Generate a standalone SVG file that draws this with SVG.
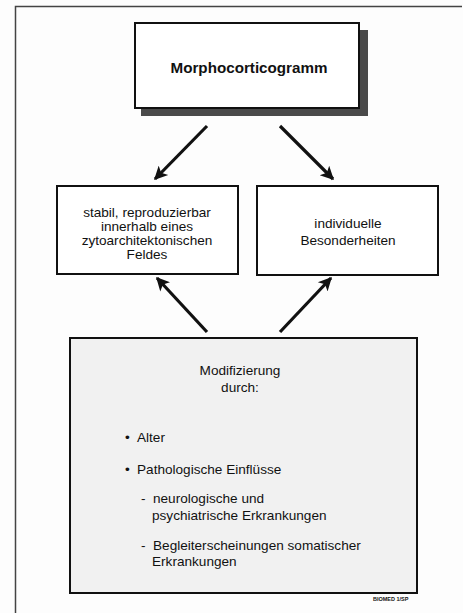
<svg xmlns="http://www.w3.org/2000/svg" width="463" height="613" viewBox="0 0 463 613">
<defs>
<marker id="ah" viewBox="0 0 10 10" refX="9" refY="5" markerWidth="4.6" markerHeight="4.2" orient="auto" markerUnits="strokeWidth">
<path d="M0,0 L10,5 L0,10 L2.5,5 Z" fill="#111"/>
</marker>
<style>
text{font-family:"Liberation Sans",Arial,sans-serif;fill:#111;font-size:13.6px}
.box{fill:#fff;stroke:#111;stroke-width:2}
.c{text-anchor:middle}
.arr{stroke:#111;stroke-width:3.2;fill:none;marker-end:url(#ah)}
</style>
</defs>
<rect width="463" height="613" fill="#fdfdfd"/>
<g id="frame" stroke="#444" stroke-width="1.5" fill="none">
<path d="M15.5,613 L15.5,6.5 L462,6.5"/>
</g>
<g id="top">
<rect x="141" y="30" width="227" height="86" fill="#4a4a4a"/>
<rect class="box" x="135" y="23" width="224" height="85"/>
<text class="c" x="249" y="73" style="font-weight:bold;font-size:15.2px">Morphocorticogramm</text>
</g>
<g id="left">
<rect class="box" x="57" y="186" width="181" height="88"/>
<text class="c" x="147" y="217">stabil, reproduzierbar</text>
<text class="c" x="147" y="231">innerhalb eines</text>
<text class="c" x="147" y="245">zytoarchitektonischen</text>
<text class="c" x="147" y="259">Feldes</text>
</g>
<g id="right">
<rect class="box" x="257" y="186" width="181" height="89"/>
<text class="c" x="348" y="228">individuelle</text>
<text class="c" x="348" y="245">Besonderheiten</text>
</g>
<g id="bottom">
<rect x="70" y="338" width="347" height="255" fill="#f1f1f1" stroke="#111" stroke-width="2"/>
<text class="c" x="240" y="375">Modifizierung</text>
<text class="c" x="240" y="392">durch:</text>
<text x="125" y="442">•</text>
<text x="137" y="442">Alter</text>
<text x="125" y="474">•</text>
<text x="137" y="474">Pathologische Einflüsse</text>
<text x="141" y="503">-</text>
<text x="153" y="503">neurologische und</text>
<text x="152" y="520">psychiatrische Erkrankungen</text>
<text x="141" y="550">-</text>
<text x="153" y="550">Begleiterscheinungen somatischer</text>
<text x="152" y="566">Erkrankungen</text>
</g>
<g id="label">
<text x="373" y="601" style="font-size:5.5px;font-weight:bold">BIOMED 1/SP</text>
</g>
<g id="connectors">
<line class="arr" x1="207" y1="126" x2="155" y2="179"/>
<line class="arr" x1="280" y1="126" x2="333" y2="179"/>
<line class="arr" x1="207" y1="332" x2="157" y2="278"/>
<line class="arr" x1="280" y1="332" x2="331" y2="278"/>
</g>
</svg>
